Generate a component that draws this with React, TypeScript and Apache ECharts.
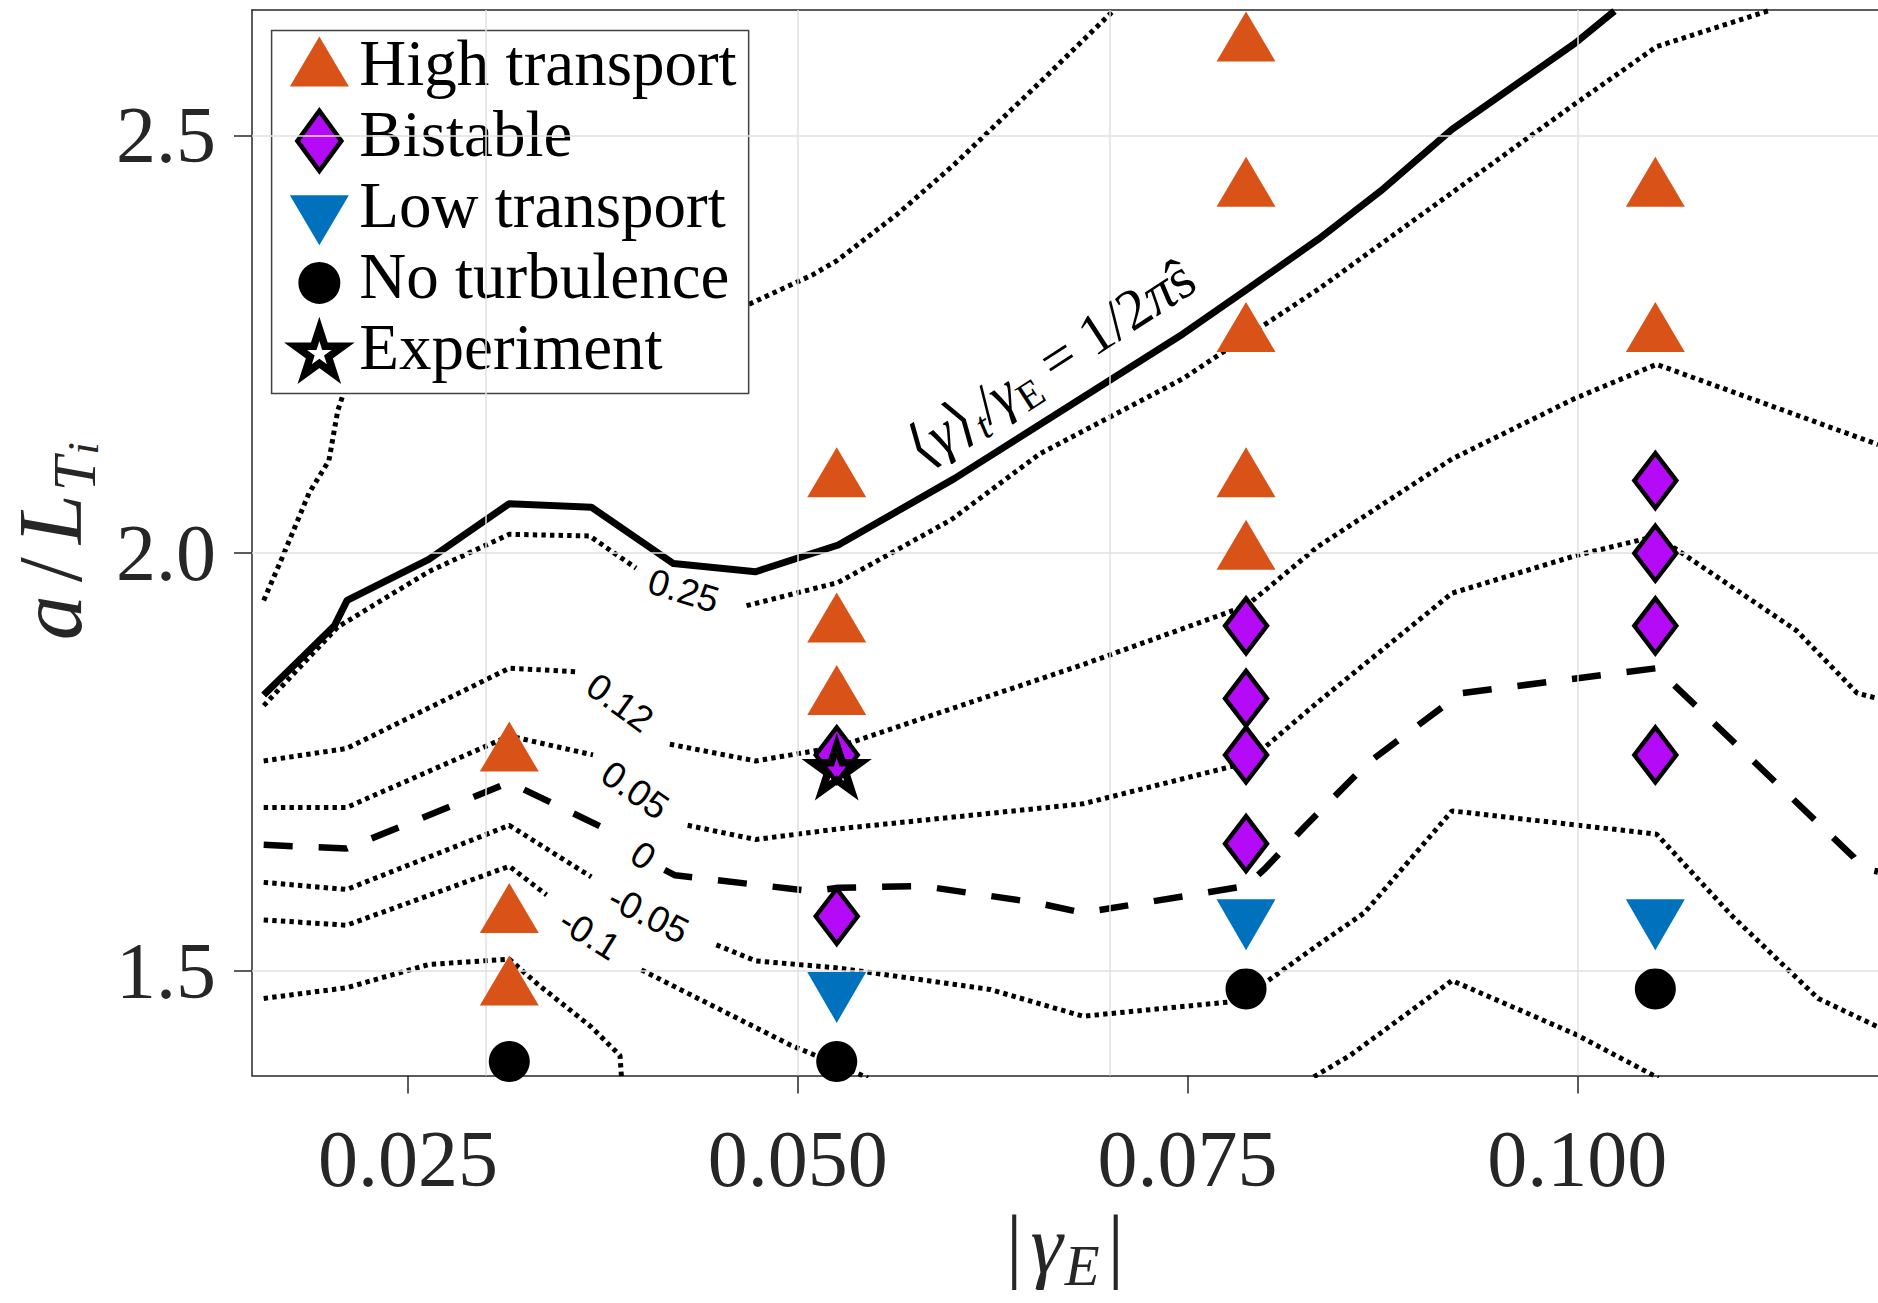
import React, { useEffect, useRef } from 'react';
import * as echarts from 'echarts';

// ---------- axes ----------
const xTicks = [0.025, 0.05, 0.075, 0.1];
const yTicks = [1.5, 2.0, 2.5];
const xRange = [0.015, 0.11928];
const yRange = [1.375, 2.65];

// ---------- markers ----------
const highTransport = [
  [0.0315, 1.7586], [0.0315, 1.5655], [0.0315, 1.4786],
  [0.0525, 2.0869], [0.0525, 1.9131], [0.0525, 1.8262],
  [0.07875, 2.6083], [0.07875, 2.4345], [0.07875, 2.2607], [0.07875, 2.0869], [0.07875, 2.0],
  [0.105, 2.4345], [0.105, 2.2607],
];
const bistable = [
  [0.0525, 1.7586], [0.0525, 1.5655],
  [0.07875, 1.9131], [0.07875, 1.8262], [0.07875, 1.7586], [0.07875, 1.6524],
  [0.105, 2.0869], [0.105, 2.0], [0.105, 1.9131], [0.105, 1.7586],
];
const lowTransport = [[0.0525, 1.4786], [0.07875, 1.5655], [0.105, 1.5655]];
const noTurbulence = [[0.0315, 1.3917], [0.0525, 1.3917], [0.07875, 1.4786], [0.105, 1.4786]];
const experiment = [[0.0525, 1.74]];

// ---------- contour lines ----------
const solidLine = [
  [0.01575, 1.8304], [0.0203, 1.9136], [0.0211, 1.9435], [0.02634, 1.9927], [0.0315, 2.0593],
  [0.03676, 2.0551], [0.04203, 1.9876], [0.0473, 1.9778], [0.0526, 2.0098], [0.06004, 2.0892],
  [0.0747, 2.2623], [0.07881, 2.3157], [0.08337, 2.3755], [0.08738, 2.4333], [0.09196, 2.5071],
  [0.09986, 2.6104], [0.10238, 2.6489],
];
const contourOuter = [
  [0.01575, 1.9435], [0.01695, 1.9953], [0.01866, 2.0721], [0.01993, 2.1106], [0.0205, 2.1705],
  [0.02084, 2.1897], [0.021, 2.24], [0.04695, 2.2986], [0.05092, 2.3328], [0.0525, 2.3499],
  [0.05637, 2.4054], [0.06004, 2.4652], [0.06554, 2.5635], [0.07023, 2.6489],
];
const contour025a = [[0.01575, 1.8176], [0.0205, 1.9117], [0.02634, 1.978], [0.0315, 2.0226], [0.03665, 2.0206], [0.03963, 1.9821]];
const contour025b = [
  [0.04672, 1.9372], [0.0526, 1.965], [0.05981, 2.0397], [0.06554, 2.1191], [0.0747, 2.2089],
  [0.08337, 2.3157], [0.09986, 2.5378], [0.10508, 2.6062], [0.11223, 2.6489],
];
const contour012a = [[0.01575, 1.7514], [0.02107, 1.7663], [0.0315, 1.8624], [0.03584, 1.8581]];
const contour012b = [
  [0.0418, 1.7714], [0.0473, 1.7514], [0.0526, 1.7684], [0.06829, 1.8667], [0.07878, 1.9372],
  [0.08337, 2.0081], [0.09196, 2.1128], [0.09986, 2.1854], [0.10508, 2.226], [0.11928, 2.13],
];
const contour005a = [[0.01575, 1.6958], [0.02107, 1.6958], [0.0315, 1.7813], [0.03687, 1.7586]];
const contour005b = [
  [0.04294, 1.6744], [0.0473, 1.6574], [0.0526, 1.6701], [0.06829, 1.7001], [0.07878, 1.7492],
  [0.08337, 1.822], [0.09196, 1.9522], [0.09986, 1.997], [0.10508, 2.0206], [0.11406, 1.9073],
  [0.11795, 1.8325], [0.11928, 1.8261],
];
const contour0a = [[0.01575, 1.651], [0.02107, 1.6466], [0.0315, 1.7257], [0.03836, 1.6638]];
const contour0b = [
  [0.04146, 1.6211], [0.04214, 1.6146], [0.05092, 1.5955], [0.0526, 1.5996], [0.05798, 1.6018],
  [0.06531, 1.5817], [0.06829, 1.5697], [0.07878, 1.6018], [0.08, 1.6232], [0.08249, 1.6724],
  [0.08658, 1.7492], [0.09253, 1.8325], [0.10508, 1.8624], [0.11773, 1.636], [0.1182, 1.6232],
  [0.11928, 1.6189],
];
const contourM005a = [[0.01575, 1.6061], [0.02107, 1.5976], [0.0315, 1.6744], [0.03676, 1.6126]];
const contourM005b = [
  [0.04478, 1.5313], [0.0473, 1.5122], [0.0526, 1.5036], [0.06233, 1.478], [0.06829, 1.4459],
  [0.07768, 1.463], [0.07878, 1.47], [0.08337, 1.5313], [0.08634, 1.5697], [0.09196, 1.6916],
  [0.10508, 1.6638], [0.10994, 1.5656], [0.11544, 1.4672], [0.11928, 1.4331],
];
const contourM01a = [[0.01575, 1.5612], [0.02107, 1.5548], [0.0315, 1.6254], [0.03389, 1.5911]];
const contourM01b = [[0.03997, 1.5014], [0.0495, 1.4117], [0.0526, 1.3878], [0.0545, 1.372]];
const contourM01c = [[0.0831, 1.3734], [0.08542, 1.399], [0.09196, 1.4886], [0.09986, 1.4245], [0.1052, 1.372]];
const contourLowest = [
  [0.01575, 1.4672], [0.02107, 1.48], [0.02634, 1.5079], [0.0315, 1.5142], [0.03332, 1.4843],
  [0.03676, 1.4331], [0.0386, 1.3989], [0.0387, 1.372],
];

// ---------- contour labels ----------
const contourLabelText = ['0.25', '0.12', '0.05', '0', '-0.05', '-0.1'];
const contourLabelPos = [[0.04267, 1.9551], [0.0386, 1.8209], [0.03956, 1.7163], [0.04008, 1.6382], [0.04042, 1.5677], [0.03665, 1.5441]];
const contourLabelAngle = [-17, -36, -35, -35, -27, -32];
const annotationPos = [[0.06622, 2.2285]];
const annotationAngle = 33;

// ---------- styles ----------
const SERIF = "'Liberation Serif', 'DejaVu Serif', 'DejaVu Sans', serif";
const SANS = "'Liberation Sans', Arial, 'DejaVu Sans', sans-serif";
const AX = '#262626';
const ORANGE = '#D95319';
const BLUE = '#0072BD';
const PURPLE = '#B40AF7';
const CLEAR = 'rgba(0,0,0,0)';

const STAR = 'M35 10L40.61 27.27L58.78 27.27L44.08 37.95L49.69 55.23L35 44.55L20.31 55.23L25.92 37.95L11.22 27.27L29.39 27.27Z';
const FRAME = 'M0 0M70 70';

const dotted = { color: '#000', width: 5, type: [4.4, 4.2], cap: 'butt' };
const dashed = { color: '#000', width: 6.5, type: [29, 26], cap: 'butt' };
const solid = { color: '#000', width: 7, type: 'solid', join: 'round' };

function lineSeries(data: number[][], style: any, extra: any = {}) {
  return {
    type: 'line', data, symbol: 'none', showSymbol: false, silent: true, clip: true,
    lineStyle: style, z: 2, ...extra,
  };
}

function buildOption() {
  const gridLines = {
    silent: true,
    symbol: ['none', 'none'],
    label: { show: false },
    lineStyle: { color: '#E0E0E0', width: 1.5, type: 'solid' },
    data: [
      ...xTicks.map((v) => ({ xAxis: v })),
      ...yTicks.map((v) => ({ yAxis: v })),
    ],
  };

  const lines = [
    lineSeries(contourLowest, dotted, { markLine: gridLines }),
    lineSeries(contourOuter, dotted),
    lineSeries(contour025a, dotted),
    lineSeries(contour025b, dotted),
    lineSeries(contour012a, dotted),
    lineSeries(contour012b, dotted),
    lineSeries(contour005a, dotted),
    lineSeries(contour005b, dotted),
    lineSeries(contour0a, dashed),
    lineSeries(contour0b, dashed),
    lineSeries(contourM005a, dotted),
    lineSeries(contourM005b, dotted),
    lineSeries(contourM01a, dotted),
    lineSeries(contourM01b, dotted),
    lineSeries(contourM01c, dotted),
    lineSeries(solidLine, solid),
  ];

  const sc = { type: 'scatter', silent: true, z: 5 };
  const markers = [
    { ...sc, name: 'High transport', data: highTransport, symbol: 'triangle', symbolSize: [59, 50], symbolOffset: [0, -8.33], itemStyle: { color: ORANGE, opacity: 1 } },
    { ...sc, name: 'Bistable', data: bistable, symbol: 'diamond', symbolSize: [42, 55], itemStyle: { color: PURPLE, opacity: 1, borderColor: '#000', borderWidth: 4.5, borderJoin: 'miter', borderMiterLimit: 10 } },
    { ...sc, name: 'Low transport', data: lowTransport, symbol: 'triangle', symbolRotate: 180, symbolSize: [59, 51], symbolOffset: [0, 8.5], itemStyle: { color: BLUE, opacity: 1 } },
    { ...sc, name: 'No turbulence', data: noTurbulence, symbol: 'circle', symbolSize: 41, itemStyle: { color: '#000', opacity: 1 } },
    { ...sc, name: 'Experiment', data: experiment, symbol: 'path://' + STAR, symbolSize: [47.56, 45.23], symbolOffset: [0, -2.39], itemStyle: { color: CLEAR, opacity: 1, borderColor: '#000', borderWidth: 7.5, borderJoin: 'miter', borderMiterLimit: 10 } },
  ];

  const labelSeries = {
    type: 'scatter', silent: true, z: 6, symbol: 'circle', symbolSize: 1,
    itemStyle: { color: CLEAR, opacity: 1 },
    label: { show: true, position: 'inside', fontFamily: SANS, fontSize: 37, color: '#000' },
    data: contourLabelPos.map((p, i) => ({
      value: p,
      label: { formatter: contourLabelText[i], rotate: contourLabelAngle[i] },
    })),
  };

  const r = (extra: any) => ({ fontFamily: SERIF, color: '#000', ...extra });
  const annotationSeries = {
    type: 'scatter', silent: true, z: 6, symbol: 'circle', symbolSize: 1,
    itemStyle: { color: CLEAR, opacity: 1 },
    label: {
      show: true, position: 'inside', rotate: annotationAngle,
      formatter: '{u|\u27E8}{i|\u03B3}{u|\u27E9}{si|t}{u|/}{i|\u03B3}{su|E}{u|\u2005=\u20051/2}{i|\u03C0}{u|\u015D}',
      rich: {
        u: r({ fontSize: 58, lineHeight: 72 }),
        i: r({ fontSize: 58, lineHeight: 72, fontStyle: 'italic' }),
        si: r({ fontSize: 40, lineHeight: 40, fontStyle: 'italic', verticalAlign: 'bottom' }),
        su: r({ fontSize: 40, lineHeight: 40, verticalAlign: 'bottom' }),
      },
    },
    data: annotationPos,
  };

  const legendIcon = {
    high: 'path://' + FRAME + 'M35 1.67L64.5 51.67L5.5 51.67Z',
    bist: 'path://' + FRAME + 'M35 5L57 35L35 65L13 35Z',
    low: 'path://' + FRAME + 'M5.5 18.33L64.5 18.33L35 68.33Z',
    none: 'path://' + FRAME + 'M56 35A21 21 0 1 1 14 35A21 21 0 1 1 56 35Z',
    star: 'path://' + FRAME + STAR,
  };

  return {
    animation: false,
    backgroundColor: '#ffffff',
    textStyle: { fontFamily: SERIF },
    grid: { left: 252, top: 10, right: 0, bottom: 227.5, containLabel: false, outerBoundsMode: 'none' },
    legend: {
      show: true, orient: 'vertical', left: 271.6, top: 30.4,
      padding: [0, 12, 0, 9], itemGap: -8, itemWidth: 70, itemHeight: 70,
      backgroundColor: '#ffffff', borderColor: '#404040', borderWidth: 1.5, borderRadius: 0,
      selectedMode: false,
      formatter: (name: string) => `{t|${name}}`,
      textStyle: {
        fontFamily: SERIF, fontSize: 65, color: '#000', width: 380,
        rich: { t: { fontFamily: SERIF, fontSize: 65, lineHeight: 60, color: '#000', padding: [0, 0, 14, 0] } },
      },
      data: [
        { name: 'High transport', icon: legendIcon.high, itemStyle: { color: ORANGE, opacity: 1, borderColor: CLEAR, borderWidth: 7.5 } },
        { name: 'Bistable', icon: legendIcon.bist, itemStyle: { color: PURPLE, opacity: 1, borderColor: '#000', borderWidth: 4.5, borderJoin: 'miter', borderMiterLimit: 10 } },
        { name: 'Low transport', icon: legendIcon.low, itemStyle: { color: BLUE, opacity: 1, borderColor: CLEAR, borderWidth: 7.5 } },
        { name: 'No turbulence', icon: legendIcon.none, itemStyle: { color: '#000', opacity: 1, borderColor: CLEAR, borderWidth: 7.5 } },
        { name: 'Experiment', icon: legendIcon.star, itemStyle: { color: CLEAR, opacity: 1, borderColor: '#000', borderWidth: 7.5, borderJoin: 'miter', borderMiterLimit: 10 } },
      ],
    },
    xAxis: [
      {
        type: 'value', position: 'bottom', min: xRange[0], max: xRange[1],
        axisLine: { show: true, onZero: false, lineStyle: { color: AX, width: 1.5 } },
        axisTick: { show: true, inside: false, length: 18, customValues: xTicks, lineStyle: { color: AX, width: 1.5 } },
        axisLabel: { show: true, customValues: xTicks, formatter: (v: number) => v.toFixed(3), fontFamily: SERIF, fontSize: 80, color: AX, margin: 43 },
        splitLine: { show: false },
        name: '{b||}{g|\u03B3}{s|E}{b||}',
        nameLocation: 'middle', nameGap: 108,
        nameTextStyle: {
          color: AX,
          rich: {
            b: { fontFamily: SERIF, fontSize: 82, lineHeight: 100, color: AX, padding: [0, 6, 0, 6] },
            g: { fontFamily: SERIF, fontSize: 82, lineHeight: 100, color: AX, fontStyle: 'italic', padding: [0, 2, 0, 2] },
            s: { fontFamily: SERIF, fontSize: 57, lineHeight: 57, color: AX, fontStyle: 'italic', verticalAlign: 'bottom', padding: [0, 2, 0, 0] },
          },
        },
      },
      {
        type: 'value', position: 'top', min: xRange[0], max: xRange[1],
        axisLine: { show: true, onZero: false, lineStyle: { color: AX, width: 1.5 } },
        axisTick: { show: false }, axisLabel: { show: false }, splitLine: { show: false },
      },
    ],
    yAxis: {
      type: 'value', position: 'left', min: yRange[0], max: yRange[1],
      axisLine: { show: true, onZero: false, lineStyle: { color: AX, width: 1.5 } },
      axisTick: { show: true, inside: false, length: 18, customValues: yTicks, lineStyle: { color: AX, width: 1.5 } },
      axisLabel: { show: true, customValues: yTicks, formatter: (v: number) => v.toFixed(1), fontFamily: SERIF, fontSize: 80, color: AX, margin: 36 },
      splitLine: { show: false },
      name: '{i|a}{u|/}{i|L}{s|T}{ss|i}',
      nameLocation: 'middle', nameRotate: 90, nameGap: 135,
      nameTextStyle: {
        color: AX,
        rich: {
          i: { fontFamily: SERIF, fontSize: 90, lineHeight: 110, color: AX, fontStyle: 'italic', padding: [0, 3, 0, 3] },
          u: { fontFamily: SERIF, fontSize: 90, lineHeight: 110, color: AX, padding: [0, 10, 0, 10] },
          s: { fontFamily: SERIF, fontSize: 62, lineHeight: 62, color: AX, fontStyle: 'italic', verticalAlign: 'bottom', padding: [0, 2, 0, 0] },
          ss: { fontFamily: SERIF, fontSize: 45, lineHeight: 45, color: AX, fontStyle: 'italic', verticalAlign: 'bottom' },
        },
      },
    },
    series: [...lines, ...markers, labelSeries, annotationSeries],
  };
}

export default function App() {
  const ref = useRef<HTMLDivElement>(null);
  useEffect(() => {
    if (!ref.current) return;
    const chart = echarts.init(ref.current, null, { renderer: 'svg', width: 1878, height: 1303 });
    chart.setOption(buildOption() as any);
    return () => chart.dispose();
  }, []);
  return (
    <div
      ref={ref}
      style={{ position: 'absolute', left: 0, top: 0, width: 1878, height: 1303, background: '#ffffff' }}
    />
  );
}
